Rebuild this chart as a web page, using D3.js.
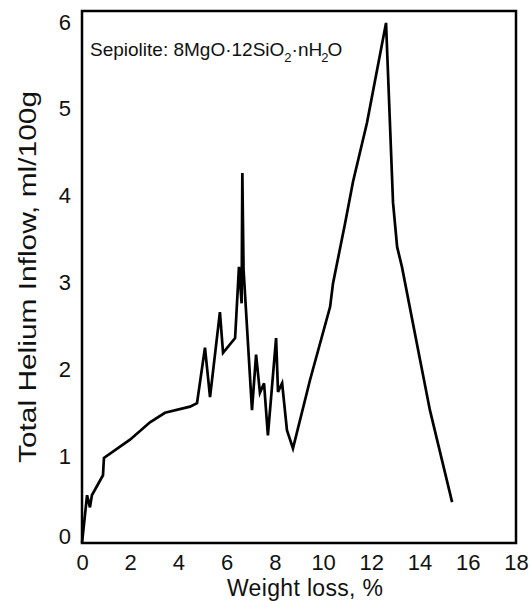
<!DOCTYPE html>
<html>
<head>
<meta charset="utf-8">
<script src="https://d3js.org/d3.v7.min.js"></script>
<style>
  body { margin: 0; background: #fff; }
  text { font-family: "Liberation Sans", Arial, sans-serif; fill: #111; }
</style>
</head>
<body>
<div id="chart"></div>
<script>
// weight loss (%) vs total helium inflow (ml/100g)
var weightLoss = [0, 0.21, 0.33, 0.41, 0.87, 0.91, 1.99, 2.82, 3.44, 4.48, 4.77,
    5.1, 5.31, 5.72, 5.85, 6.35, 6.51, 6.62, 6.65, 6.7, 7.05, 7.22, 7.38, 7.55,
    7.71, 8.05, 8.13, 8.3, 8.5, 8.75, 9.46, 10.29, 10.41, 10.91, 11.24, 11.82,
    12.61, 12.9, 13.07, 13.27, 14.02, 14.43, 15.35];
var heliumInflow = [0, 0.55, 0.41, 0.55, 0.78, 0.98, 1.19, 1.39, 1.5, 1.57, 1.61,
    2.25, 1.68, 2.66, 2.19, 2.36, 3.18, 2.76, 4.26, 3.15, 1.53, 2.17, 1.73, 1.84,
    1.24, 2.36, 1.74, 1.84, 1.3, 1.09, 1.88, 2.72, 2.99, 3.68, 4.16, 4.84,
    5.99, 3.92, 3.41, 3.18, 2.11, 1.53, 0.47];

var xTicks = [0, 2, 4, 6, 8, 10, 12, 14, 16, 18];
var yTicks = [0, 1, 2, 3, 4, 5, 6];

var svgWidth = 531;
var svgHeight = 601;

var margin = {
    top: 11,
    right: 15,
    bottom: 58,
    left: 82
};

var width = svgWidth - margin.left - margin.right;
var height = svgHeight - margin.top - margin.bottom;

var svg = d3.select("#chart").append("svg")
    .attr("width", svgWidth)
    .attr("height", svgHeight);

var chartGroup = svg.append("g")
    .attr("transform", `translate(${margin.left}, ${margin.top})`);

var xScale = d3.scaleLinear()
    .domain([0, 18])
    .range([0, width]);

var yScale = d3.scaleLinear()
    .domain([0, 6.127])
    .range([height, 0]);

// axes: labels only, no tick marks
var xAxis = chartGroup.append("g")
    .attr("transform", `translate(0, ${height})`)
    .call(d3.axisBottom(xScale).tickValues(xTicks).tickFormat(d3.format("d"))
        .tickSize(0).tickPadding(11));

var yAxis = chartGroup.append("g")
    .call(d3.axisLeft(yScale).tickValues(yTicks).tickFormat(d3.format("d"))
        .tickSize(0).tickPadding(11));

[xAxis, yAxis].forEach(function (ax) {
    ax.select(".domain").remove();
    ax.selectAll("text")
        .attr("font-size", "22px")
        .attr("font-family", "Liberation Sans, Arial, sans-serif")
        .attr("fill", "#111");
});

// the 0 label sits a bit higher than the axis line
yAxis.selectAll(".tick")
    .filter(d => d == 0)
    .select("text")
    .attr("dy", "0.0em");

// frame
chartGroup.append("rect")
    .attr("x", 0)
    .attr("y", 0)
    .attr("width", width)
    .attr("height", height)
    .attr("fill", "none")
    .attr("stroke", "#000")
    .attr("stroke-width", 2.5);

var line = d3.line()
    .x((d, i) => xScale(weightLoss[i]))
    .y(d => yScale(d));

chartGroup.append("path")
    .datum(heliumInflow)
    .attr("d", line)
    .attr("fill", "none")
    .attr("stroke", "#000")
    .attr("stroke-width", 2.7)
    .attr("stroke-linejoin", "miter")
    .attr("stroke-miterlimit", 4);

// annotation
var note = chartGroup.append("text")
    .attr("x", 8)
    .attr("y", 45)
    .attr("font-size", "19px");
note.append("tspan").text("Sepiolite: 8MgO·12SiO");
note.append("tspan").attr("font-size", "13px").attr("dy", 6).text("2");
note.append("tspan").attr("dy", -6).text("·nH");
note.append("tspan").attr("font-size", "13px").attr("dy", 6).attr("dx", -1).text("2");
note.append("tspan").attr("dy", -6).attr("dx", -1).text("O");

// axis titles
svg.append("text")
    .attr("x", 305)
    .attr("y", 596)
    .attr("text-anchor", "middle")
    .attr("font-size", "23px")
    .attr("textLength", 156)
    .text("Weight loss, %");

svg.append("text")
    .attr("transform", `translate(36, 277) rotate(-90)`)
    .attr("text-anchor", "middle")
    .attr("font-size", "23px")
    .attr("textLength", 372)
    .attr("lengthAdjust", "spacingAndGlyphs")
    .text("Total Helium Inflow, ml/100g");
</script>
</body>
</html>
